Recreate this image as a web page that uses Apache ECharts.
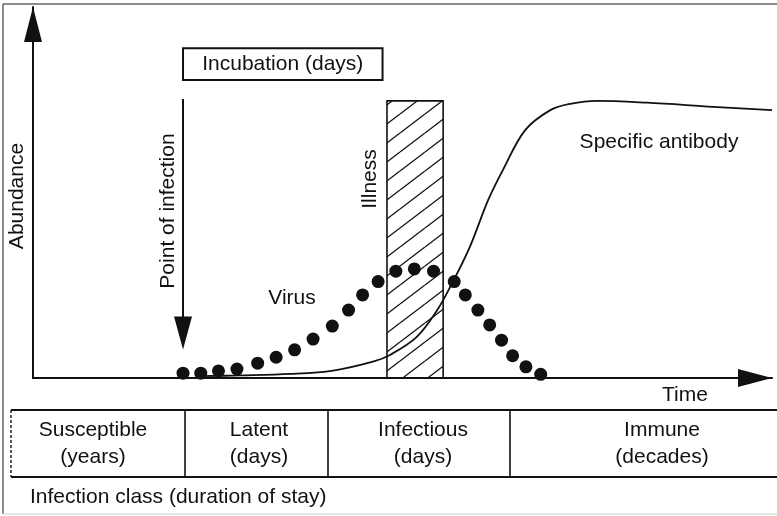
<!DOCTYPE html>
<html>
<head>
<meta charset="utf-8">
<script src="https://cdn.jsdelivr.net/npm/echarts@6/dist/echarts.min.js"></script>
<style>
  html, body { margin: 0; padding: 0; background: #fff; }
  #chart { width: 777px; height: 516px; }
</style>
</head>
<body>
<div id="chart"></div>
<script>
// time (arbitrary units, 0-100) and abundance (0-100)
const virusTime = [20.3, 22.7, 25.1, 27.6, 30.4, 32.9, 35.4, 37.9, 40.5, 42.7, 44.6, 46.7, 49.1,
  51.6, 54.2, 57.0, 58.5, 60.2, 61.8, 63.4, 64.9, 66.7, 68.7]
const virusLevel = [1.3, 1.3, 1.9, 2.4, 4.0, 5.6, 7.6, 10.5, 14.0, 18.3, 22.4, 26.0, 28.8,
  29.4, 28.8, 26.0, 22.4, 18.3, 14.3, 10.2, 6.0, 3.0, 1.0]

const antibodyTime = [22.6, 28.0, 34.8, 40.6, 46.0, 48.3, 51.9, 54.7, 56.8, 59.1, 61.6, 63.6,
  66.6, 70.0, 72.7, 76.3, 83.1, 92.0, 100]
const antibodyLevel = [0.5, 0.7, 1.1, 2.0, 4.4, 6.2, 11.0, 18.3, 25.9, 35.3, 48.0, 56.1,
  66.8, 72.2, 73.9, 74.7, 74.2, 73.1, 72.2]

const infectionPoint = 20.3
const incubation = [20.3, 47.3]
const illness = [47.9, 55.5]
const illnessTop = 74.7

const classNames = ['Susceptible', 'Latent', 'Infectious', 'Immune']
const classDuration = ['(years)', '(days)', '(days)', '(decades)']

const FONT = '"Liberation Sans", Arial, Helvetica, sans-serif'
const INK = '#111'

function hatch() {
  const c = document.createElement('canvas')
  c.width = 25
  c.height = 19
  const g = c.getContext('2d')
  g.strokeStyle = INK
  g.lineWidth = 1.3
  ;[-19, 0, 19].forEach(k => {
    g.beginPath()
    g.moveTo(0, 19 + k)
    g.lineTo(25, k)
    g.stroke()
  })
  return c
}

function txt(text, x, y, extra) {
  return Object.assign({
    type: 'text', x: x, y: y, silent: true,
    style: { text: text, fill: INK, fontSize: 21, fontFamily: FONT, align: 'center', verticalAlign: 'middle' }
  }, extra || {})
}

function line(x1, y1, x2, y2, style) {
  return {
    type: 'line', silent: true,
    shape: { x1: x1, y1: y1, x2: x2, y2: y2 },
    style: Object.assign({ stroke: INK, lineWidth: 1.6 }, style || {})
  }
}

const chart = echarts.init(document.getElementById('chart'))

// table of infection classes (layout only)
const cellEdges = [11, 185, 328, 510]
const cellCenters = [93, 259, 423, 662]
const table = [
  line(11, 410, 777, 410, { lineWidth: 2 }),
  line(11, 477, 777, 477, { lineWidth: 2 }),
  line(11, 410, 11, 477, { lineWidth: 1.4, lineDash: [3, 2] })
]
cellEdges.slice(1).forEach(x => table.push(line(x, 410, x, 477)))
classNames.forEach((name, i) => {
  table.push(txt(name + '\n' + classDuration[i], cellCenters[i], 444, {
    style: { text: name + '\n' + classDuration[i], fill: INK, fontSize: 21, fontFamily: FONT,
      align: 'center', verticalAlign: 'middle', lineHeight: 27 }
  }))
})
table.push(txt('Infection class (duration of stay)', 30, 497, {
  style: { text: 'Infection class (duration of stay)', fill: INK, fontSize: 21, fontFamily: FONT,
    align: 'left', verticalAlign: 'middle' }
}))

chart.setOption({
  animation: false,
  backgroundColor: '#fff',
  grid: { left: 33, right: 5, top: 7, bottom: 138, outerBoundsMode: 'none', containLabel: false },
  xAxis: {
    type: 'value', min: 0, max: 100,
    axisLine: {
      lineStyle: { color: INK, width: 2 },
      symbol: ['none', 'triangle'], symbolSize: [18, 34], symbolOffset: [0, -17]
    },
    axisTick: { show: false }, axisLabel: { show: false }, splitLine: { show: false }
  },
  yAxis: {
    type: 'value', min: 0, max: 100,
    axisLine: {
      lineStyle: { color: INK, width: 2 },
      symbol: ['none', 'triangle'], symbolSize: [18, 35], symbolOffset: [0, -17.5]
    },
    axisTick: { show: false }, axisLabel: { show: false }, splitLine: { show: false }
  },
  graphic: [
    line(3, 4, 777, 4, { stroke: '#666', lineWidth: 1.5 }),
    line(3, 4, 3, 514, { stroke: '#666', lineWidth: 1.5 }),
    line(3, 514, 777, 514, { stroke: '#ddd', lineWidth: 1.5 }),
    txt('Abundance', 17, 196, { rotation: Math.PI / 2 }),
    txt('Point of infection', 168, 211, { rotation: Math.PI / 2 }),
    txt('Illness', 370, 179, { rotation: Math.PI / 2 }),
    txt('Virus', 292, 298),
    txt('Specific antibody', 659, 142),
    txt('Time', 685, 395)
  ].concat(table),
  series: [
    {
      name: 'Specific antibody',
      type: 'line',
      smooth: 0.35,
      showSymbol: false,
      z: 3,
      lineStyle: { color: INK, width: 1.8 },
      data: antibodyTime.map((t, i) => [t, antibodyLevel[i]]),
      markArea: {
        silent: true,
        z: 1,
        data: [
          [{
            xAxis: illness[0], yAxis: 0,
            itemStyle: { color: { image: hatch(), repeat: 'repeat' }, borderColor: INK, borderWidth: 1.6 },
            label: { show: false }
          }, { xAxis: illness[1], yAxis: illnessTop }],
          [{
            name: 'Incubation (days)',
            xAxis: incubation[0], yAxis: 80.3,
            itemStyle: { color: '#fff', borderColor: INK, borderWidth: 2 },
            label: { show: true, position: 'inside', color: INK, fontSize: 21, fontFamily: FONT }
          }, { xAxis: incubation[1], yAxis: 88.9 }]
        ]
      },
      markLine: {
        silent: true,
        symbol: ['none', 'triangle'],
        symbolSize: [18, 33],
        label: { show: false },
        lineStyle: { color: INK, width: 2, type: 'solid' },
        data: [[
          { coord: [infectionPoint, 75.2] },
          { coord: [infectionPoint, 12.1] }
        ]]
      }
    },
    {
      name: 'Virus',
      type: 'scatter',
      symbolSize: 13,
      z: 4,
      itemStyle: { color: INK, opacity: 1 },
      data: virusTime.map((t, i) => [t, virusLevel[i]])
    }
  ]
})
</script>
</body>
</html>
